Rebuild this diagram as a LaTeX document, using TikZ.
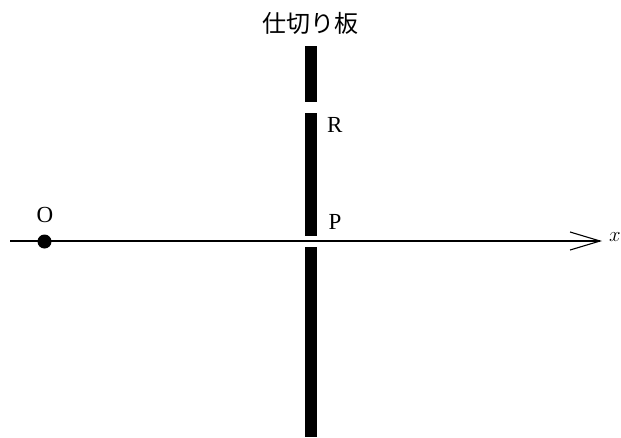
\documentclass[tikz,border=0pt]{standalone}
\usepackage{fontspec}
\newfontfamily\cjk{Noto Sans CJK JP}
\newfontfamily\lblfont{Liberation Serif}
\usetikzlibrary{arrows.meta}
\begin{document}
\begin{tikzpicture}[x=1pt,y=-1pt,
  plate/.style={fill=black,draw=none},
  lbl/.style={font=\lblfont\fontsize{23}{23}\selectfont,inner sep=0pt},
  axis/.style={line width=1.5pt,-{Straight Barb[length=30pt,width=18pt,line width=1.1pt]}}]
\useasboundingbox (0,0) rectangle (621,437);
\fill[plate] (305,46) rectangle (317,102);
\fill[plate] (305,113) rectangle (317,236);
\fill[plate] (305,247) rectangle (317,437);
\coordinate (start) at (10,241);
\coordinate (tip) at (602,241);
\draw[axis] (start) -- (tip);
\node[circle,fill=black,inner sep=0pt,minimum size=14pt] (O) at (44.5,241.5) {};
\node[lbl] (Olab) at (45,214.5) {O};
\node[lbl] (P) at (335,221.5) {P};
\node[lbl] (R) at (334.7,124.7) {R};
\node[inner sep=0pt,anchor=base west,font=\fontsize{21}{21}\selectfont] (x) at (609,241.5) {$x$};
\node[inner sep=0pt,font=\cjk\fontsize{24}{24}\selectfont] (title) at (310,23) {仕切り板};
\end{tikzpicture}
\end{document}
